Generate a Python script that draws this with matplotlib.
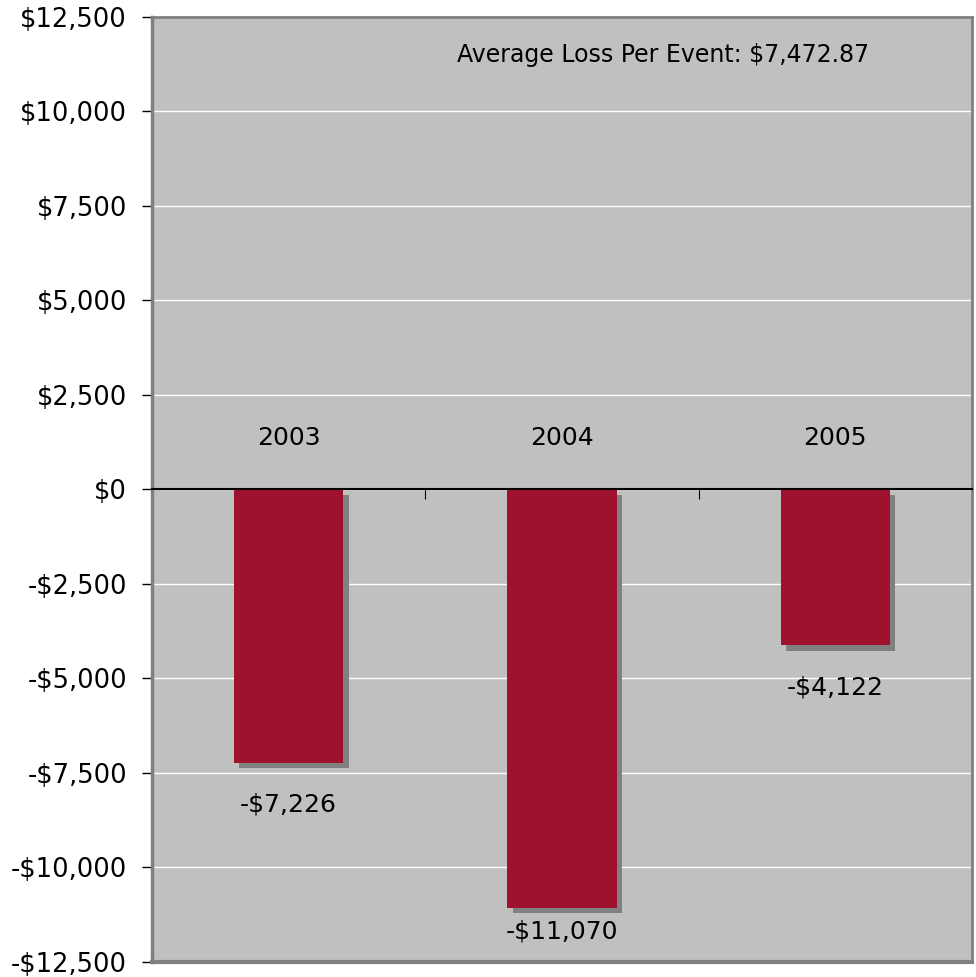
import matplotlib.pyplot as plt
import matplotlib.patheffects as pe
from matplotlib.ticker import FuncFormatter

years = ['2003', '2004', '2005']
losses = [-7226, -11070, -4122]
avg_loss = 7472.87

def money(v, pos=None):
    if v < 0:
        return '-${:,.0f}'.format(-v)
    return '${:,.0f}'.format(v)

fig = plt.figure(figsize=(9.76, 9.77), dpi=100)
ax = fig.add_axes([0.1557, 0.0154, 0.8402, 0.9672])
ax.set_facecolor('#C0C0C0')

x = range(len(years))
bars = ax.bar(x, losses, width=0.4, color='#9E1230', zorder=3,
              path_effects=[pe.SimplePatchShadow(offset=(3.8, -3.8), shadow_rgbFace='#808080', alpha=1), pe.Normal()])

ax.set_xlim(-0.5, 2.5)
ax.set_ylim(-12500, 12500)
ax.set_yticks(range(-12500, 12501, 2500))
ax.yaxis.set_major_formatter(FuncFormatter(money))
ax.yaxis.grid(True, color='white', linewidth=1, zorder=1)
ax.tick_params(axis='y', labelsize=18.5, length=7, width=1, color='black', pad=11)

ax.spines['bottom'].set_position(('data', 0))
ax.spines['bottom'].set_color('black')
ax.spines['bottom'].set_linewidth(1.5)
ax.spines['bottom'].set_zorder(4)
ax.set_xticks([0.5, 1.5, 2.5])
ax.set_xticklabels([])
ax.tick_params(axis='x', length=7, direction='out', color='black')
for s in ['left', 'top', 'right']:
    ax.spines[s].set_color('#808080')
    ax.spines[s].set_linewidth(2)
ax.spines['left'].set_linewidth(2.5)
ax.axhline(-12500, color='#808080', linewidth=3, zorder=5, clip_on=False)

for i, (yr, v) in enumerate(zip(years, losses)):
    ax.annotate(yr, (i, 0), xytext=(0, 37), textcoords='offset points',
                ha='center', va='center', fontsize=18)
    # label sits under the bar, but kept inside the plot area
    ly = max(v - 1110, -12500 + 800)
    ax.text(i, ly, money(v), ha='center', va='center', fontsize=18)

ax.text(0.623, 0.96, 'Average Loss Per Event: ${:,.2f}'.format(avg_loss),
        transform=ax.transAxes, ha='center', va='center', fontsize=17)

fig.savefig('out.png', dpi=100)
